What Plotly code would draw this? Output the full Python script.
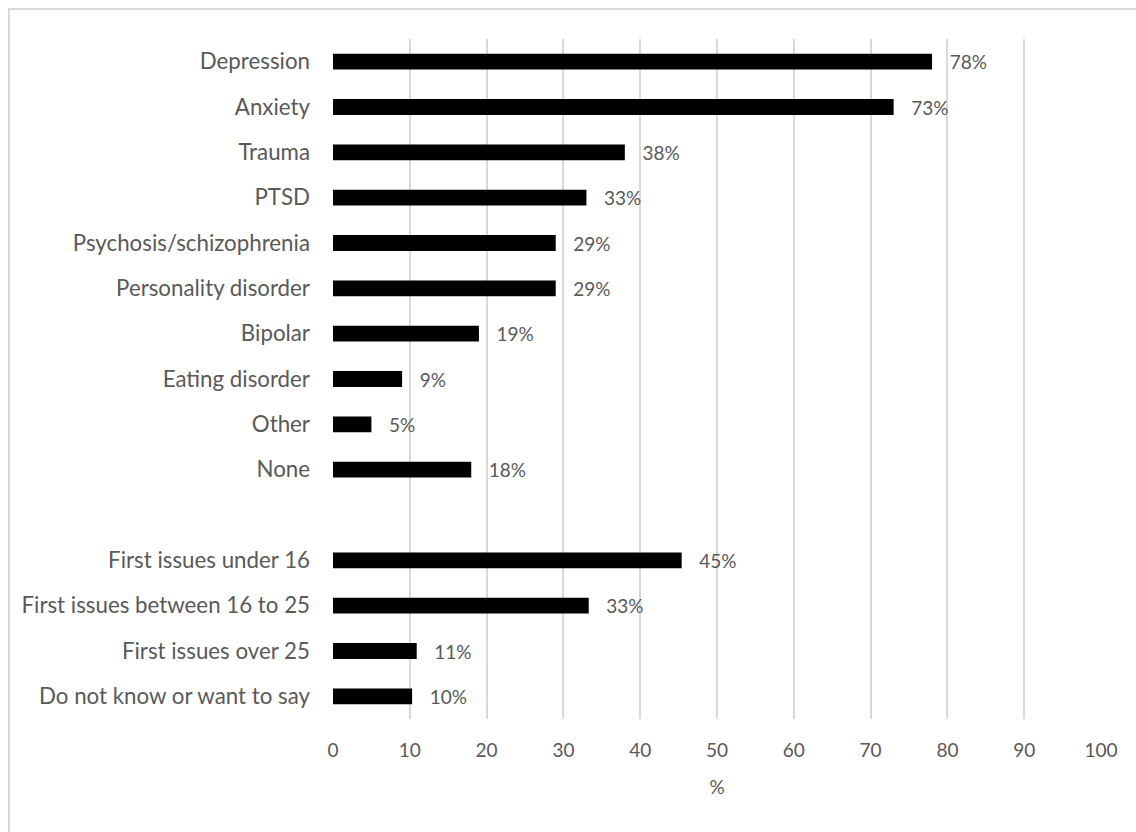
import plotly.graph_objects as go

# Mental health conditions reported, followed by age at first issues
conditions = [
    "Depression", "Anxiety", "Trauma", "PTSD", "Psychosis/schizophrenia",
    "Personality disorder", "Bipolar", "Eating disorder", "Other", "None",
]
condition_pct = [78, 73, 38, 33, 29, 29, 19, 9, 5, 18]

onset_groups = [
    "First issues under 16", "First issues between 16 to 25",
    "First issues over 25", "Do not know or want to say",
]
onset_pct = [45.4, 33.3, 10.9, 10.3]

x_ticks = [0, 10, 20, 30, 40, 50, 60, 70, 80, 90, 100]

# a blank spacer row separates the two groups
spacer = " "
categories = conditions + [spacer] + onset_groups
values = condition_pct + [None] + onset_pct

FONT = "Lato"
GREY = "#595959"

fig = go.Figure(
    go.Bar(
        x=values,
        y=categories,
        orientation="h",
        marker=dict(color="#000000", line=dict(width=0)),
        width=0.35,
        texttemplate="   %{x:.0f}%",
        textposition="outside",
        constraintext="none",
        textfont=dict(family=FONT, size=19, color=GREY),
        cliponaxis=False,
        hoverinfo="skip",
    )
)

fig.update_layout(
    width=1136,
    height=832,
    autosize=False,
    margin=dict(l=333, r=35, t=39, b=113),
    paper_bgcolor="white",
    plot_bgcolor="white",
    showlegend=False,
    font=dict(family=FONT, size=19, color=GREY),
    xaxis=dict(
        range=[0, 100],
        tickvals=x_ticks,
        ticktext=[str(t) for t in x_ticks],
        showgrid=True,
        gridcolor="#d9d9d9",
        gridwidth=1.5,
        zeroline=False,
        showline=False,
        ticks="",
        ticklabelstandoff=18,
        tickfont=dict(family=FONT, size=19, color=GREY),
        title=dict(text="%", font=dict(family=FONT, size=19, color=GREY), standoff=20),
    ),
    yaxis=dict(
        type="category",
        categoryorder="array",
        categoryarray=categories,
        autorange="reversed",
        showgrid=False,
        zeroline=False,
        showline=False,
        ticks="",
        ticklabelstandoff=22,
        tickfont=dict(family=FONT, size=22.3, color=GREY),
    ),
    shapes=[
        # chart frame
        dict(type="rect", xref="paper", yref="paper",
             x0=-0.4219, x1=1.06, y0=-0.2, y1=1.0441,
             line=dict(color="#d9d9d9", width=2), fillcolor="rgba(0,0,0,0)",
             layer="below"),
    ],
)

fig.write_html("out.html")
